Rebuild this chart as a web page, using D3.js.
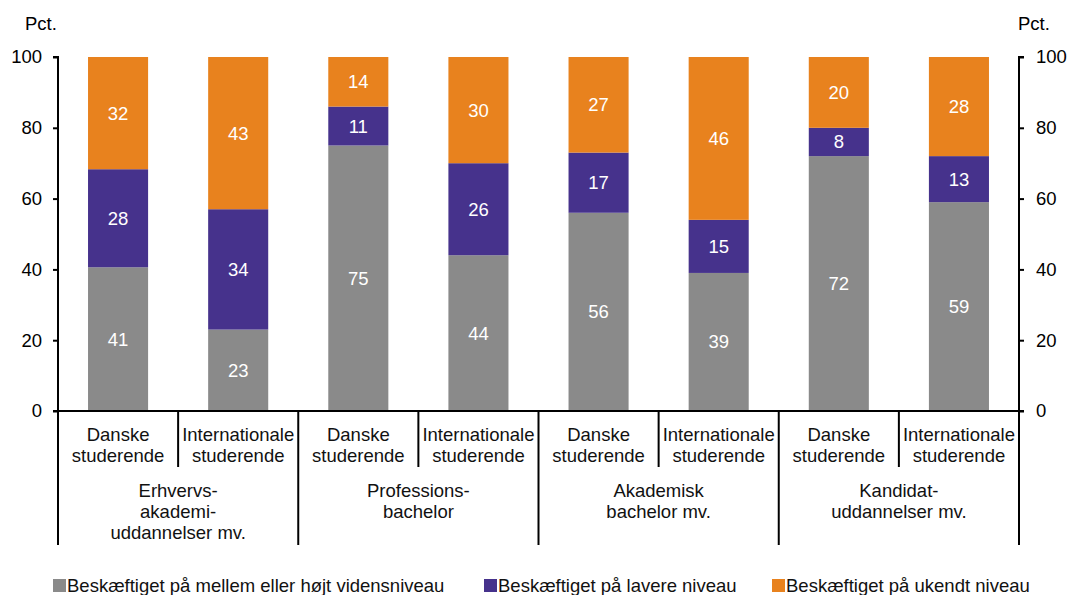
<!DOCTYPE html>
<html><head><meta charset="utf-8">
<script src="https://cdn.jsdelivr.net/npm/d3@7"></script>
<style>body{margin:0;background:#fff}svg{font-family:"Liberation Sans",Arial,sans-serif}</style>
</head><body><svg id="c" width="1068" height="595"></svg>
<script>
const subCats = ["Danske studerende","Internationale studerende","Danske studerende","Internationale studerende","Danske studerende","Internationale studerende","Danske studerende","Internationale studerende"];
const groups = [["Erhvervs-","akademi-","uddannelser mv."],["Professions-","bachelor"],["Akademisk","bachelor mv."],["Kandidat-","uddannelser mv."]];
const seriesNames = ["Beskæftiget på mellem eller højt vidensniveau","Beskæftiget på lavere niveau","Beskæftiget på ukendt niveau"];
const high = [40.6,23,75,44,56,39,72,59];
const lower = [27.7,34,11,26,17,15,8,13];
const unknown = [31.7,43,14,30,27,46,20,28];
const yTicks = [0,20,40,60,80,100];
const colors = ["#8a8a8a","#46328c","#e8821e"];

const FS = 18.5;
const svg = d3.select("#c");
const L=58,R=1019,T=57,B=411;
const idx = d3.range(subCats.length);
const x = d3.scaleBand().domain(idx).range([L,R]).paddingInner(0.5).paddingOuter(0.25);
const y = d3.scaleLinear().domain([0,100]).range([B,T]);
const step = x.step();

const data = idx.map(i=>({i, s0:high[i], s1:lower[i], s2:unknown[i]}));
const stack = d3.stack().keys(["s0","s1","s2"])(data);

stack.forEach((layer,k)=>{
  const g = svg.append("g");
  g.selectAll("rect").data(layer).join("rect")
    .attr("x",d=>x(d.data.i)).attr("width",x.bandwidth())
    .attr("y",d=>y(d[1])).attr("height",d=>y(d[0])-y(d[1]))
    .attr("fill",colors[k]);
  g.selectAll("text").data(layer).join("text")
    .attr("x",d=>x(d.data.i)+x.bandwidth()/2)
    .attr("y",d=>(y(d[0])+y(d[1]))/2)
    .attr("dy","0.35em").attr("text-anchor","middle")
    .attr("fill","#fff").attr("font-size",FS)
    .text(d=>d3.format(".0f")(d[1]-d[0]));
});

// axes
const ya = svg.append("g").attr("transform",`translate(${L},0)`)
  .call(d3.axisLeft(y).tickValues(yTicks).tickSize(5).tickPadding(11));
const yb = svg.append("g").attr("transform",`translate(${R},0)`)
  .call(d3.axisRight(y).tickValues(yTicks).tickSize(5).tickPadding(12));
[ya,yb].forEach(a=>{
  a.selectAll(".tick line").attr("stroke","#000").attr("stroke-width",2);
  a.selectAll(".tick text").attr("font-size",FS).attr("fill","#000").attr("font-family","Liberation Sans, Arial, sans-serif");
});
ya.select(".domain").attr("stroke","#000").attr("stroke-width",2).attr("d",`M-5,${T}H0V${B}`);
yb.select(".domain").attr("stroke","#000").attr("stroke-width",2).attr("d",`M5,${T}H0V${B}`);
svg.append("line").attr("x1",L-5).attr("x2",R+5).attr("y1",B).attr("y2",B).attr("stroke","#000").attr("stroke-width",2);

svg.append("text").attr("x",25).attr("y",30).attr("font-size",FS).text("Pct.");
svg.append("text").attr("x",1018).attr("y",30).attr("font-size",FS).text("Pct.");

// category separators
idx.concat([subCats.length]).forEach(i=>{
  const xx = L + i*step;
  const long = i%2===0;
  svg.append("line").attr("x1",xx).attr("x2",xx).attr("y1",B).attr("y2",long?545:467)
    .attr("stroke","#000").attr("stroke-width",2);
});
idx.forEach(i=>{
  const cx = x(i)+x.bandwidth()/2;
  const parts = subCats[i].split(" ");
  const t = svg.append("text").attr("text-anchor","middle").attr("font-size",FS).attr("fill","#111");
  parts.forEach((p,j)=>t.append("tspan").attr("x",cx).attr("y",441+j*21).text(p));
});
groups.forEach((lines,gi)=>{
  const cx = L + (gi*2+1)*step;
  const t = svg.append("text").attr("text-anchor","middle").attr("font-size",FS).attr("fill","#111");
  lines.forEach((p,j)=>t.append("tspan").attr("x",cx).attr("y",497+j*21).text(p));
});

// legend
const legX = [53,484,772];
seriesNames.forEach((n,k)=>{
  svg.append("rect").attr("x",legX[k]).attr("y",579).attr("width",13).attr("height",13).attr("fill",colors[k]);
  svg.append("text").attr("x",legX[k]+14).attr("y",592).attr("font-size",FS).attr("fill","#111").text(n);
});
</script></body></html>
